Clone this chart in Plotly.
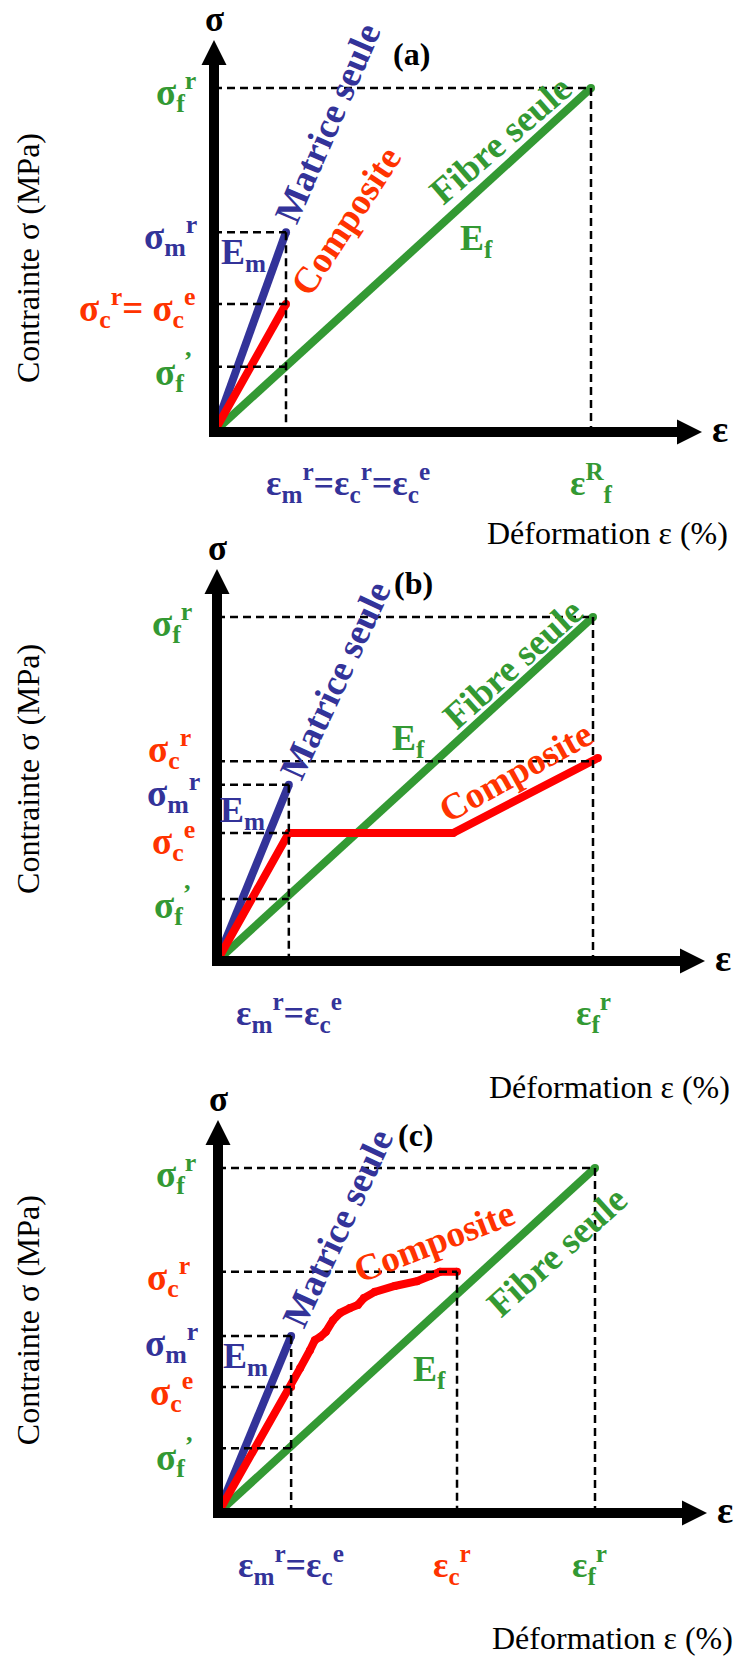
import plotly.graph_objects as go

W, H = 739, 1656
BLUE = "#333399"
RED = "#FF0000"
RED_TXT = "#FF3300"
GREEN = "#339933"
FONT = "Liberation Serif"
LBL = 37      # bold sigma labels
ELBL = 36     # E_m / E_f and strain labels
ROT = 37      # rotated curve names
TITLE = 32    # axis titles

# ---------------- data (normalised units: fibre failure point = (1, 1)) ----------------
panel_names = ["(a)", "(b)", "(c)"]

fibre_eps = [0.0, 1.0]
fibre_sig = [0.0, 1.0]

matrix_eps_a = [0.0, 0.191]
matrix_sig_a = [0.0, 0.581]
comp_eps_a = [0.0, 0.191]
comp_sig_a = [0.0, 0.372]
sig_f_prime_a = 0.19

matrix_eps_b = [0.0, 0.191]
matrix_sig_b = [0.0, 0.512]
comp_eps_b = [0.0, 0.191, 0.628, 1.013]
comp_sig_b = [0.0, 0.372, 0.372, 0.590]
sig_c_r_b = 0.581
sig_f_prime_b = 0.18

matrix_eps_c = [0.0, 0.194]
matrix_sig_c = [0.0, 0.513]
comp_eps_c = [0.0, 0.194, 0.218, 0.244, 0.257, 0.271, 0.286, 0.305, 0.324, 0.350,
              0.371, 0.387, 0.416, 0.469, 0.528, 0.562, 0.589, 0.634]
comp_sig_c = [0.0, 0.365, 0.420, 0.472, 0.501, 0.510, 0.525, 0.559, 0.580, 0.594,
              0.603, 0.623, 0.641, 0.658, 0.672, 0.687, 0.699, 0.699]
sig_f_prime_c = 0.188

# ---------------- per-panel geometry (pixels) ----------------
GEOM = [
    dict(ox=214, oy=432, sx=377, sy=344, top=0, bot=548, tipx=702, tipy=40),
    dict(ox=217, oy=961, sx=376, sy=344, top=548, bot=1100, tipx=705, tipy=569),
    dict(ox=218, oy=1513, sx=377, sy=345, top=1100, bot=1656, tipx=707, tipy=1120),
]

fig = go.Figure()
annotations = []


def axname(i):
    return ("x" if i == 0 else f"x{i+1}"), ("y" if i == 0 else f"y{i+1}")


def line(i, xs, ys, color, width, dash=None, caps=False):
    xa, ya = axname(i)
    fig.add_trace(go.Scatter(x=xs, y=ys, mode=("lines+markers" if caps else "lines"),
                             xaxis=xa, yaxis=ya,
                             line=dict(color=color, width=width, dash=dash),
                             marker=dict(color=color, size=width, line=dict(width=0)),
                             hoverinfo="skip", showlegend=False))


def tri(i, xs, ys):
    xa, ya = axname(i)
    fig.add_trace(go.Scatter(x=xs, y=ys, mode="lines", fill="toself", xaxis=xa, yaxis=ya,
                             fillcolor="black", line=dict(color="black", width=0),
                             hoverinfo="skip", showlegend=False))


def ann(i, x, y, text, color, size=LBL, bold=True, angle=0, xanchor="center",
        yanchor="middle", xshift=0, yshift=0, pad=1):
    xa, ya = axname(i)
    annotations.append(dict(
        x=x, y=y, xref=xa, yref=ya, text=(f"<b>{text}</b>" if bold else text),
        showarrow=False, textangle=angle, xanchor=xanchor, yanchor=yanchor,
        xshift=xshift, yshift=yshift, borderpad=pad,
        font=dict(family=FONT, size=size, color=color)))


def dashed(i, hsegs, vsegs):
    xs, ys = [], []
    for (x_end, s) in hsegs:
        xs += [0, x_end, None]
        ys += [s, s, None]
    for (e, s_top) in vsegs:
        xs += [e, e, None]
        ys += [s_top, 0, None]
    line(i, xs, ys, "black", 2.5, dash="8px,5px")


def axes(i):
    g = GEOM[i]
    ux = 1.0 / g["sx"]
    uy = 1.0 / g["sy"]
    tipx = (g["tipx"] - g["ox"]) * ux
    tipy = (g["oy"] - g["tipy"]) * uy
    line(i, [-5 * ux, tipx - 20 * ux], [0, 0], "black", 10)
    line(i, [0, 0], [-5 * uy, tipy - 20 * uy], "black", 10)
    tri(i, [tipx - 25 * ux, tipx, tipx - 25 * ux, tipx - 25 * ux],
        [12.5 * uy, 0, -12.5 * uy, 12.5 * uy])
    tri(i, [-12.5 * ux, 0, 12.5 * ux, -12.5 * ux],
        [tipy - 25 * uy, tipy, tipy - 25 * uy, tipy - 25 * uy])
    ann(i, 0, tipy, "σ", "black", size=35, yanchor="bottom", yshift=0, pad=0)
    ann(i, tipx, 0, "ε", "black", size=38, xanchor="left", xshift=8, yshift=3)


layout_axes = {}
for i, g in enumerate(GEOM):
    xa = "xaxis" if i == 0 else f"xaxis{i+1}"
    ya = "yaxis" if i == 0 else f"yaxis{i+1}"
    layout_axes[xa] = dict(domain=[0, 1], range=[(0 - g["ox"]) / g["sx"], (W - g["ox"]) / g["sx"]],
                           visible=False, fixedrange=True, anchor=axname(i)[1])
    layout_axes[ya] = dict(domain=[(H - g["bot"]) / H, (H - g["top"]) / H],
                           range=[(g["oy"] - g["bot"]) / g["sy"], (g["oy"] - g["top"]) / g["sy"]],
                           visible=False, fixedrange=True, anchor=axname(i)[0])

# ---------------- panel (a) ----------------
i = 0
line(i, fibre_eps, fibre_sig, GREEN, 8, caps=True)
line(i, matrix_eps_a, matrix_sig_a, BLUE, 8, caps=True)
line(i, comp_eps_a, comp_sig_a, RED, 8, caps=True)
em = matrix_eps_a[-1]
dashed(i, [(fibre_eps[-1], fibre_sig[-1]), (em, matrix_sig_a[-1]), (em, comp_sig_a[-1]),
           (em, sig_f_prime_a)],
       [(fibre_eps[-1], fibre_sig[-1]), (em, matrix_sig_a[-1])])
axes(i)
ann(i, 0, fibre_sig[-1], "σ<sub>f</sub><sup>r</sup>", GREEN, xanchor="right", xshift=-16, yshift=-4)
ann(i, 0, matrix_sig_a[-1], "σ<sub>m</sub><sup>r</sup>", BLUE, xanchor="right", xshift=-15, yshift=-4)
ann(i, 0, comp_sig_a[-1], "σ<sub>c</sub><sup>r</sup>= σ<sub>c</sub><sup>e</sup>", RED_TXT,
    xanchor="right", xshift=-16, yshift=-4)
ann(i, 0, sig_f_prime_a, "σ<sub>f</sub><sup>’</sup>", GREEN, xanchor="right", xshift=-20, yshift=-5)
ann(i, em, 0, "ε<sub>m</sub><sup>r</sup>=ε<sub>c</sub><sup>r</sup>=ε<sub>c</sub><sup>e</sup>", BLUE,
    size=ELBL, xshift=62, yshift=-51)
ann(i, fibre_eps[-1], 0, "ε<sup>R</sup><sub>f</sub>", GREEN, size=ELBL, yshift=-51)
ann(i, 0.077, 0.515, "E<sub>m</sub>", BLUE, size=ELBL)
ann(i, 0.695, 0.558, "E<sub>f</sub>", GREEN, size=ELBL)
ann(i, 0.30, 0.898, "Matrice seule", BLUE, size=ROT, angle=-66.5)
ann(i, 0.35, 0.616, "Composite", RED_TXT, size=ROT, angle=-56.7)
ann(i, 0.761, 0.849, "Fibre seule", GREEN, size=ROT, angle=-41)
ann(i, 0.525, 1.10, panel_names[0], "black", size=32)
ann(i, 0.72, -0.294, "Déformation ε (%)", "black", size=TITLE, bold=False, xanchor="left")
ann(i, -0.493, 0.506, "Contrainte σ (MPa)", "black", size=TITLE, bold=False, angle=-90)

# ---------------- panel (b) ----------------
i = 1
line(i, fibre_eps, fibre_sig, GREEN, 8, caps=True)
line(i, matrix_eps_b, matrix_sig_b, BLUE, 8, caps=True)
line(i, comp_eps_b, comp_sig_b, RED, 8, caps=True)
em = matrix_eps_b[-1]
dashed(i, [(fibre_eps[-1], fibre_sig[-1]), (fibre_eps[-1], sig_c_r_b), (em, matrix_sig_b[-1]),
           (em, comp_sig_b[1]), (em, sig_f_prime_b)],
       [(fibre_eps[-1], fibre_sig[-1]), (em, matrix_sig_b[-1])])
axes(i)
ann(i, 0, fibre_sig[-1], "σ<sub>f</sub><sup>r</sup>", GREEN, xanchor="right", xshift=-23, yshift=-6)
ann(i, 0, sig_c_r_b, "σ<sub>c</sub><sup>r</sup>", RED_TXT, xanchor="right", xshift=-24, yshift=12)
ann(i, 0, matrix_sig_b[-1], "σ<sub>m</sub><sup>r</sup>", BLUE, xanchor="right", xshift=-16, yshift=-8,
    pad=0)
ann(i, 0, comp_sig_b[1], "σ<sub>c</sub><sup>e</sup>", RED_TXT, xanchor="right", xshift=-21, yshift=-8,
    pad=0)
ann(i, 0, sig_f_prime_b, "σ<sub>f</sub><sup>’</sup>", GREEN, xanchor="right", xshift=-24, yshift=-6)
ann(i, em, 0, "ε<sub>m</sub><sup>r</sup>=ε<sub>c</sub><sup>e</sup>", BLUE, size=ELBL, yshift=-52)
ann(i, fibre_eps[-1], 0, "ε<sub>f</sub><sup>r</sup>", GREEN, size=ELBL, yshift=-52)
ann(i, 0.069, 0.433, "E<sub>m</sub>", BLUE, size=ELBL)
ann(i, 0.508, 0.642, "E<sub>f</sub>", GREEN, size=ELBL)
ann(i, 0.316, 0.817, "Matrice seule", BLUE, size=ROT, angle=-65)
ann(i, 0.795, 0.552, "Composite", RED_TXT, size=ROT, angle=-29)
ann(i, 0.787, 0.866, "Fibre seule", GREEN, size=ROT, angle=-42)
ann(i, 0.522, 1.10, panel_names[1], "black", size=32)
ann(i, 0.718, -0.366, "Déformation ε (%)", "black", size=TITLE, bold=False, xanchor="left")
ann(i, -0.503, 0.558, "Contrainte σ (MPa)", "black", size=TITLE, bold=False, angle=-90)

# ---------------- panel (c) ----------------
i = 2
line(i, fibre_eps, fibre_sig, GREEN, 8, caps=True)
line(i, matrix_eps_c, matrix_sig_c, BLUE, 8, caps=True)
line(i, comp_eps_c, comp_sig_c, RED, 8, caps=True)
em = matrix_eps_c[-1]
ecr, scr = comp_eps_c[-1], comp_sig_c[-1]
dashed(i, [(fibre_eps[-1], fibre_sig[-1]), (ecr, scr), (em, matrix_sig_c[-1]),
           (em, comp_sig_c[1]), (em, sig_f_prime_c)],
       [(fibre_eps[-1], fibre_sig[-1]), (ecr, scr), (em, matrix_sig_c[-1])])
axes(i)
ann(i, 0, fibre_sig[-1], "σ<sub>f</sub><sup>r</sup>", GREEN, xanchor="right", xshift=-20, yshift=-6)
ann(i, 0, scr, "σ<sub>c</sub><sup>r</sup>", RED_TXT, xanchor="right", xshift=-26, yshift=-5)
ann(i, 0, matrix_sig_c[-1], "σ<sub>m</sub><sup>r</sup>", BLUE, xanchor="right", xshift=-18, yshift=-7)
ann(i, 0, comp_sig_c[1], "σ<sub>c</sub><sup>e</sup>", RED_TXT, xanchor="right", xshift=-23, yshift=-5)
ann(i, 0, sig_f_prime_c, "σ<sub>f</sub><sup>’</sup>", GREEN, xanchor="right", xshift=-23, yshift=-9)
ann(i, em, 0, "ε<sub>m</sub><sup>r</sup>=ε<sub>c</sub><sup>e</sup>", BLUE, size=ELBL, yshift=-52)
ann(i, ecr, 0, "ε<sub>c</sub><sup>r</sup>", RED_TXT, size=ELBL, xshift=-5, yshift=-52)
ann(i, fibre_eps[-1], 0, "ε<sub>f</sub><sup>r</sup>", GREEN, size=ELBL, xshift=-6, yshift=-52)
ann(i, 0.072, 0.449, "E<sub>m</sub>", BLUE, size=ELBL)
ann(i, 0.562, 0.409, "E<sub>f</sub>", GREEN, size=ELBL)
ann(i, 0.316, 0.826, "Matrice seule", BLUE, size=ROT, angle=-65)
ann(i, 0.573, 0.786, "Composite", RED_TXT, size=ROT, angle=-21)
ann(i, 0.899, 0.759, "Fibre seule", GREEN, size=ROT, angle=-42)
ann(i, 0.526, 1.096, panel_names[2], "black", size=32)
ann(i, 0.721, -0.362, "Déformation ε (%)", "black", size=TITLE, bold=False, xanchor="left")
ann(i, -0.504, 0.559, "Contrainte σ (MPa)", "black", size=TITLE, bold=False, angle=-90)

fig.update_layout(
    width=W, height=H, margin=dict(l=0, r=0, t=0, b=0),
    paper_bgcolor="white", plot_bgcolor="white",
    showlegend=False, annotations=annotations, **layout_axes)

fig.write_html("out.html", config={"displayModeBar": False},
               post_script="document.body.style.margin='0';document.body.style.overflow='hidden';")
